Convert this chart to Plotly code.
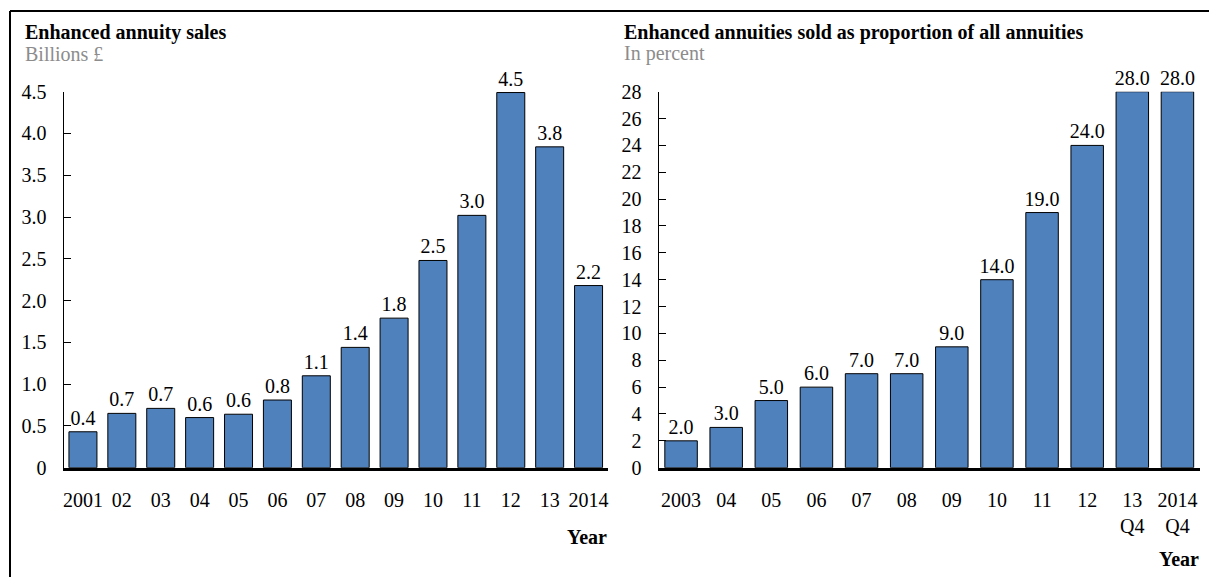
import plotly.graph_objects as go

# Left panel: enhanced annuity sales, billions of pounds
sales_years = ["2001", "02", "03", "04", "05", "06", "07", "08", "09", "10", "11", "12", "13", "2014"]
sales_bn = [0.43, 0.65, 0.71, 0.60, 0.64, 0.81, 1.10, 1.44, 1.79, 2.48, 3.02, 4.49, 3.84, 2.18]
sales_ticks = [0, 0.5, 1.0, 1.5, 2.0, 2.5, 3.0, 3.5, 4.0, 4.5]
sales_tick_text = ["0", "0.5", "1.0", "1.5", "2.0", "2.5", "3.0", "3.5", "4.0", "4.5"]

# Right panel: enhanced annuities as share of all annuities, percent
share_years = ["2003", "04", "05", "06", "07", "08", "09", "10", "11", "12", "13<br>Q4", "2014<br>Q4"]
share_pct = [2.0, 3.0, 5.0, 6.0, 7.0, 7.0, 9.0, 14.0, 19.0, 24.0, 28.0, 28.0]
share_ticks = list(range(0, 29, 2))

W, H = 1209, 577
FONT = "Liberation Serif"
BAR_COLOR = "#4F81BD"


def px_x(v):
    return v / W


def px_y(v):
    return 1 - v / H


y_dom = [px_y(467.7), px_y(91.7)]

fig = go.Figure()

bar_style = dict(
    marker=dict(color=BAR_COLOR, line=dict(color="#000000", width=1)),
    texttemplate="%{y:.1f}",
    textposition="outside",
    cliponaxis=False,
    constraintext="none",
    textfont=dict(family=FONT, size=20, color="#000000"),
    showlegend=False,
    hoverinfo="skip",
)

fig.add_trace(go.Bar(x=sales_years, y=sales_bn, xaxis="x", yaxis="y", **bar_style))
fig.add_trace(go.Bar(x=share_years, y=share_pct, xaxis="x2", yaxis="y2", **bar_style))

x_common = dict(
    type="category",
    automargin=False,
    showline=True,
    linecolor="#000000",
    linewidth=3,
    ticks="",
    showgrid=False,
    zeroline=False,
    tickfont=dict(family=FONT, size=20, color="#000000"),
    ticklabelstandoff=12,
)
y_common = dict(
    automargin=False,
    showline=True,
    linecolor="#000000",
    linewidth=1,
    ticks="inside",
    ticklen=7,
    tickcolor="#000000",
    tickwidth=1,
    showgrid=False,
    zeroline=False,
    tickfont=dict(family=FONT, size=20, color="#000000"),
    ticklabelstandoff=12,
    domain=y_dom,
)

fig.update_layout(
    width=W,
    height=H,
    autosize=False,
    margin=dict(l=0, r=0, t=0, b=0, pad=0, autoexpand=False),
    paper_bgcolor="#ffffff",
    plot_bgcolor="#ffffff",
    bargap=0.28,
    font=dict(family=FONT, size=20, color="#000000"),
    xaxis=dict(domain=[px_x(63.5), px_x(608)], anchor="y", **x_common),
    yaxis=dict(anchor="x", range=[0, 4.5], tickvals=sales_ticks, ticktext=sales_tick_text, **y_common),
    xaxis2=dict(domain=[px_x(658.5), px_x(1200)], anchor="y2", **x_common),
    yaxis2=dict(anchor="x2", range=[0, 28], tickvals=share_ticks, **y_common),
)

# Panel titles, units and axis captions
texts = [
    (23, 33, "<b>Enhanced annuity sales</b>", "left", "#000000", 20),
    (23, 54, "Billions £", "left", "#8c8c8c", 20),
    (622, 33, "<b>Enhanced annuities sold as proportion of all annuities</b>", "left", "#000000", 20),
    (622, 54, "In percent", "left", "#8c8c8c", 20),
    (609, 537, "<b>Year</b>", "right", "#000000", 20),
    (1201, 559, "<b>Year</b>", "right", "#000000", 20),
]
for x, y, t, anchor, color, size in texts:
    fig.add_annotation(
        x=px_x(x), y=px_y(y), xref="paper", yref="paper",
        text=t, showarrow=False, xanchor=anchor, yanchor="middle",
        font=dict(family=FONT, size=size, color=color),
    )

# Frame around the two panels (top and left edges)
fig.add_shape(type="line", xref="paper", yref="paper",
              x0=px_x(10), x1=1.0, y0=px_y(11), y1=px_y(11),
              line=dict(color="#000000", width=2))
fig.add_shape(type="line", xref="paper", yref="paper",
              x0=px_x(10), x1=px_x(10), y0=px_y(11), y1=0,
              line=dict(color="#000000", width=2))

fig.write_html("out.html")
